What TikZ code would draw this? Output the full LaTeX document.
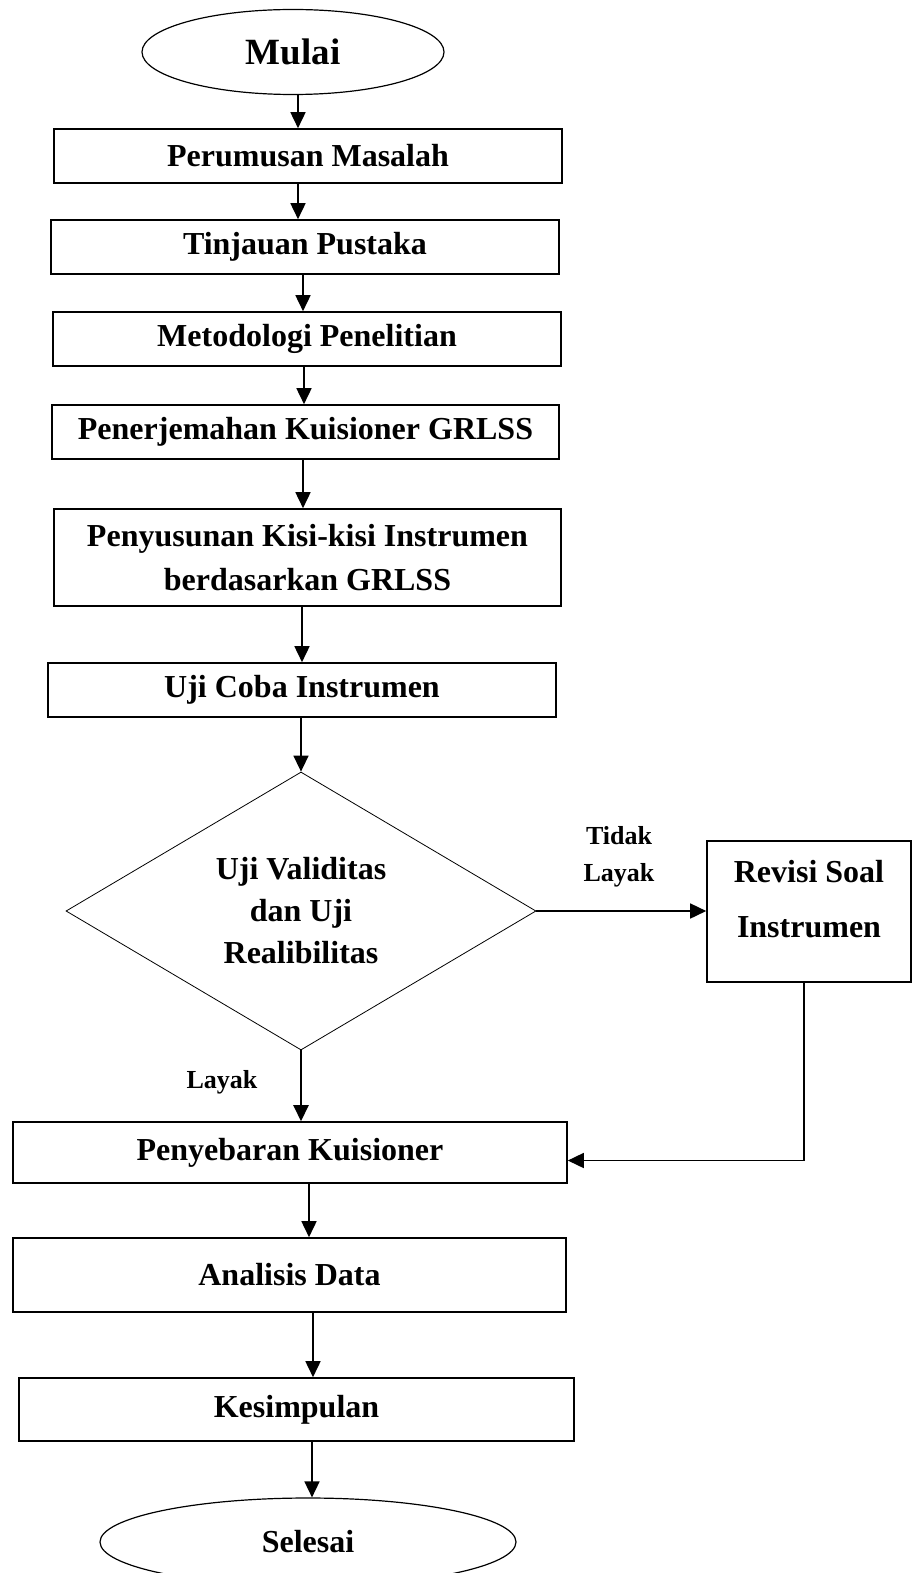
\documentclass[tikz,border=0pt]{standalone}
\usepackage{fontspec}
\setmainfont{Liberation Serif}
\usetikzlibrary{shapes.geometric,arrows.meta,positioning}

\begin{document}
\begin{tikzpicture}[x=1pt, y=-1pt,
  box/.style={draw, line width=1.6pt, rectangle, inner sep=0pt, align=center, font=\bfseries\fontsize{32}{44}\selectfont},
  oval/.style={draw, line width=1.2pt, ellipse, inner sep=0pt, font=\bfseries\fontsize{32}{40}\selectfont},
  arr/.style={-{Triangle[length=16pt,width=15pt]}, line width=1.6pt},
  lbl/.style={align=center, font=\bfseries\fontsize{26}{37}\selectfont}]
\clip (0,0) rectangle (914,1573);
\node[oval, minimum width=302pt, minimum height=85pt, font=\bfseries\fontsize{37}{40}\selectfont] (mulai) at (293,52) {Mulai};
\node[box, minimum width=508pt, minimum height=54pt] (perumusan) at (308,156) {Perumusan Masalah};
\node[box, minimum width=508pt, minimum height=54pt] (tinjauan) at (305,247) {Tinjauan Pustaka};
\node[box, minimum width=508pt, minimum height=54pt] (metodologi) at (307,339) {Metodologi Penelitian};
\node[box, minimum width=507pt, minimum height=54pt] (penerjemahan) at (305.5,432) {Penerjemahan Kuisioner GRLSS};
\node[box, minimum width=507pt, minimum height=97pt] (penyusunan) at (307.5,557.5) {Penyusunan Kisi-kisi Instrumen\\berdasarkan GRLSS};
\node[box, minimum width=508pt, minimum height=54pt] (ujicoba) at (302,690) {Uji Coba Instrumen};
\node[draw, diamond, line width=0.8pt, inner sep=0pt, shape aspect=1.69, minimum width=470pt, minimum height=278pt,
  align=center, font=\bfseries\fontsize{32}{42}\selectfont] (uji) at (301,911) {Uji Validitas\\dan Uji\\Realibilitas};
\node[box, minimum width=204pt, minimum height=141pt] (revisi) at (809,911.5) {};
\node[align=center, font=\bfseries\fontsize{32}{55}\selectfont] (revisitext) at ([yshift=12pt]revisi.center) {Revisi Soal\\Instrumen};
\node[lbl] (tidak) at (619,857) {Tidak\\Layak};
\node[lbl] (layak) at (222,1082) {Layak};
\node[box, minimum width=554pt, minimum height=61pt] (penyebaran) at (290,1152.5) {Penyebaran Kuisioner};
\node[box, minimum width=553pt, minimum height=74pt] (analisis) at (289.5,1275) {Analisis Data};
\node[box, minimum width=555pt, minimum height=63pt] (kesimpulan) at (296.5,1409.5) {Kesimpulan};
\node[oval, minimum width=416pt, minimum height=88pt] (selesai) at (308,1542) {Selesai};

\draw[arr] ([xshift=5pt]mulai.south) -- ([xshift=5pt]mulai.south |- perumusan.north);
\draw[arr] ([xshift=-10pt]perumusan.south) -- ([xshift=-10pt]perumusan.south |- tinjauan.north);
\draw[arr] ([xshift=-2pt]tinjauan.south) -- ([xshift=-2pt]tinjauan.south |- metodologi.north);
\draw[arr] ([xshift=-3pt]metodologi.south) -- ([xshift=-3pt]metodologi.south |- penerjemahan.north);
\draw[arr] ([xshift=-2.5pt]penerjemahan.south) -- ([xshift=-2.5pt]penerjemahan.south |- penyusunan.north);
\draw[arr] ([xshift=-5.5pt]penyusunan.south) -- ([xshift=-5.5pt]penyusunan.south |- ujicoba.north);
\draw[arr] (ujicoba.south -| uji.north) -- (uji.north);
\draw[arr, line width=2.4pt] (uji.south) -- (uji.south |- penyebaran.north);
\draw[arr] (uji.east) -- (uji.east -| revisi.west);
\draw[arr] ([xshift=-5pt]revisi.south) |- ([yshift=-8pt]penyebaran.east);
\draw[arr] ([xshift=19pt]penyebaran.south) -- ([xshift=19pt]penyebaran.south |- analisis.north);
\draw[arr] ([xshift=23.5pt]analisis.south) -- ([xshift=23.5pt]analisis.south |- kesimpulan.north);
\draw[arr] ([xshift=15.5pt]kesimpulan.south) -- ([xshift=15.5pt]kesimpulan.south |- selesai.north);
\end{tikzpicture}
\end{document}
